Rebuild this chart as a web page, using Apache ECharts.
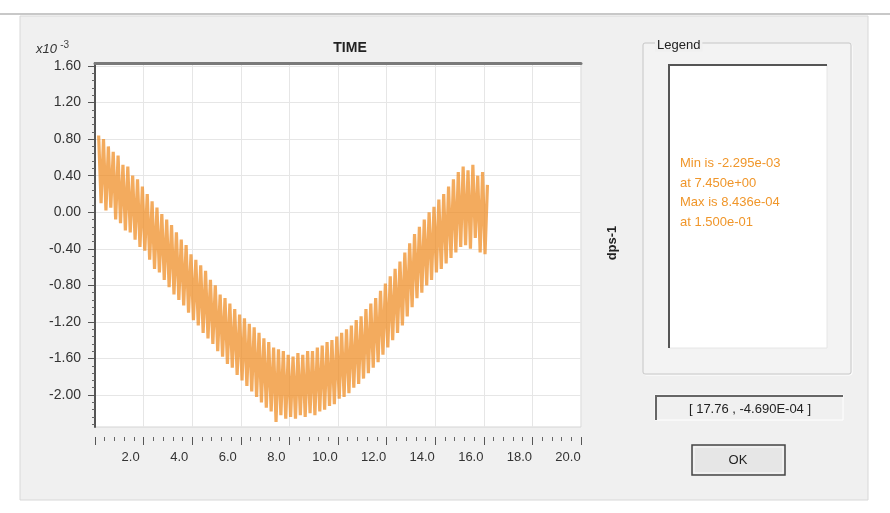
<!DOCTYPE html>
<html>
<head>
<meta charset="utf-8">
<script src="https://cdn.jsdelivr.net/npm/echarts@6/dist/echarts.min.js"></script>
<style>
  html, body { margin: 0; padding: 0; background: #fff; }
  #main { width: 890px; height: 513px; }
</style>
</head>
<body>
<div id="main"></div>
<script>
// signal dps-1 against TIME, values in units of 1e-3
const timeStart = 0.15;
const timeStep = 0.1;
const dpsValues = [
  0.84, 0.10, 0.80, 0.02, 0.72, 0.05, 0.66, -0.08, 0.62, -0.12,
  0.52, -0.20, 0.50, -0.22, 0.40, -0.30, 0.36, -0.38, 0.28, -0.42,
  0.20, -0.52, 0.12, -0.62, 0.05, -0.66, -0.02, -0.74, -0.08, -0.82,
  -0.14, -0.90, -0.22, -0.96, -0.30, -1.02, -0.36, -1.10, -0.46, -1.18,
  -0.52, -1.24, -0.58, -1.32, -0.64, -1.38, -0.74, -1.44, -0.80, -1.52,
  -0.90, -1.58, -0.94, -1.66, -1.00, -1.70, -1.06, -1.78, -1.12, -1.84,
  -1.16, -1.90, -1.22, -1.96, -1.26, -2.02, -1.32, -2.08, -1.38, -2.14,
  -1.42, -2.18, -1.48, -2.295, -1.50, -2.22, -1.52, -2.26, -1.56, -2.24,
  -1.58, -2.26, -1.54, -2.22, -1.56, -2.24, -1.52, -2.20, -1.52, -2.22,
  -1.48, -2.18, -1.46, -2.16, -1.42, -2.12, -1.40, -2.10, -1.36, -2.04,
  -1.32, -2.02, -1.28, -1.98, -1.24, -1.92, -1.18, -1.88, -1.14, -1.82,
  -1.06, -1.76, -1.00, -1.70, -0.94, -1.64, -0.86, -1.56, -0.78, -1.48,
  -0.70, -1.40, -0.62, -1.32, -0.54, -1.24, -0.44, -1.14, -0.34, -1.04,
  -0.24, -0.94, -0.16, -0.88, -0.08, -0.80, 0.00, -0.74, 0.06, -0.66,
  0.14, -0.62, 0.20, -0.56, 0.28, -0.50, 0.36, -0.44, 0.44, -0.38,
  0.50, -0.36, 0.46, -0.40, 0.52, -0.28, 0.40, -0.44, 0.44, -0.46,
  0.30
];
const yTickLabels = [-2.0, -1.6, -1.2, -0.8, -0.4, 0.0, 0.4, 0.8, 1.2, 1.6];
const legendLines = ['Min is -2.295e-03', 'at 7.450e+00', 'Max is 8.436e-04', 'at 1.500e-01'];
const cursorText = '[ 17.76 , -4.690E-04 ]';

// 把采样点拼成 [x, y]
let seriesData = [];
for (let i = 0; i < dpsValues.length; i++) {
  seriesData.push([+(timeStart + i * timeStep).toFixed(2), dpsValues[i]]);
}

// y 轴小刻度，每 0.08 一个
let yMinorTicks = [];
for (let k = -29; k <= 20; k++) {
  if (k % 5 !== 0) yMinorTicks.push(+(k * 0.08).toFixed(2));
}

const yMin = -2.35, yMax = 1.633;
const font = 'Arial, "Liberation Sans", sans-serif';

let chart = echarts.init(document.getElementById('main'));
let option = {
  animation: false,
  backgroundColor: '#fff',
  title: {
    text: 'TIME',
    left: 345,
    top: 36,
    textAlign: 'center',
    textStyle: { fontFamily: font, fontSize: 14, fontWeight: 'bold', color: '#222' }
  },
  grid: {
    left: 95,
    top: 63,
    width: 486,
    height: 364,
    show: true,
    backgroundColor: '#fff',
    borderColor: '#d4d4d4',
    borderWidth: 1
  },
  xAxis: [
    {
      type: 'value',
      min: 0,
      max: 20,
      interval: 2,
      offset: 10,
      axisLine: { show: false, onZero: false },
      axisTick: { show: true, inside: false, length: 8, lineStyle: { color: '#555' } },
      minorTick: { show: true, splitNumber: 5, length: 4, lineStyle: { color: '#666' } },
      axisLabel: {
        margin: 14,
        padding: [0, 26, 0, 0],
        fontFamily: font,
        fontSize: 13,
        color: '#333',
        showMinLabel: false,
        formatter: function (v) { return v === 0 ? '' : v.toFixed(1); }
      },
      splitLine: { show: true, lineStyle: { color: '#e6e6e6', width: 1 } },
      minorSplitLine: { show: false }
    },
    {
      // 顶部深色边框
      type: 'value',
      position: 'top',
      min: 0,
      max: 20,
      axisLine: { show: true, onZero: false, lineStyle: { color: '#7a7a7a', width: 3 } },
      axisTick: { show: false },
      axisLabel: { show: false },
      splitLine: { show: false }
    }
  ],
  yAxis: [
    {
      type: 'value',
      min: yMin,
      max: yMax,
      axisLine: { show: true, onZero: false, lineStyle: { color: '#555', width: 2 } },
      axisTick: { show: true, inside: false, length: 7, customValues: yTickLabels, lineStyle: { color: '#555' } },
      axisLabel: {
        customValues: yTickLabels,
        margin: 14,
        fontFamily: font,
        fontSize: 14,
        color: '#333',
        formatter: function (v) { return v.toFixed(2); }
      },
      splitLine: { show: true, lineStyle: { color: '#e6e6e6', width: 1 } }
    },
    {
      // 小刻度
      type: 'value',
      position: 'left',
      min: yMin,
      max: yMax,
      axisLine: { show: false, onZero: false },
      axisTick: { show: true, inside: false, length: 3, customValues: yMinorTicks, lineStyle: { color: '#666' } },
      axisLabel: { show: false },
      splitLine: { show: false }
    }
  ],
  graphic: [
    // 对话框背景
    { type: 'rect', z: -10, shape: { x: 20, y: 16, width: 848, height: 484 },
      style: { fill: '#f0f0f0', stroke: '#d8d8d8', lineWidth: 1 } },
    { type: 'line', z: -9, shape: { x1: 0, y1: 14, x2: 890, y2: 14 },
      style: { stroke: '#c8c8c8', lineWidth: 2 } },
    // x10 -3
    { type: 'text', left: 36, top: 40, style: {
        text: '{a|x10} {b|-3}',
        rich: {
          a: { fontFamily: font, fontSize: 13, fontStyle: 'italic', fill: '#333' },
          b: { fontFamily: font, fontSize: 10, fill: '#444', verticalAlign: 'top', padding: [0, 0, 8, 0] }
        }
    } },
    // dps-1
    { type: 'text', x: 612, y: 243, rotation: Math.PI / 2, style: {
        text: 'dps-1', fontFamily: font, fontSize: 13, fontWeight: 'bold', fill: '#222',
        align: 'center', verticalAlign: 'middle'
    } },
    // Legend 分组框
    { type: 'rect', shape: { x: 644, y: 44, width: 208, height: 331, r: 2 },
      style: { fill: 'none', stroke: '#fff', lineWidth: 1 } },
    { type: 'rect', shape: { x: 643, y: 43, width: 208, height: 331, r: 2 },
      style: { fill: '#f3f3f3', stroke: '#c6c6c6', lineWidth: 1 } },
    { type: 'text', x: 655, y: 45, style: {
        text: 'Legend', fontFamily: font, fontSize: 13, fill: '#222',
        backgroundColor: '#f0f0f0', padding: [0, 2], verticalAlign: 'middle'
    } },
    // 列表框
    { type: 'rect', shape: { x: 669, y: 65, width: 158, height: 283 },
      style: { fill: '#fff', stroke: '#e6e6e6', lineWidth: 1 } },
    { type: 'polyline', shape: { points: [[669, 348], [669, 65], [827, 65]] },
      style: { stroke: '#555', lineWidth: 2, fill: null } },
    { type: 'text', x: 680, y: 154, style: {
        text: legendLines.join('\n'), fontFamily: font, fontSize: 13, fill: '#f0962a',
        lineHeight: 19.5, verticalAlign: 'top'
    } },
    // 坐标显示框
    { type: 'rect', shape: { x: 655, y: 395, width: 188, height: 25 },
      style: { fill: '#f0f0f0', stroke: '#fff', lineWidth: 1 } },
    { type: 'polyline', shape: { points: [[656, 420], [656, 396], [843, 396]] },
      style: { stroke: '#666', lineWidth: 2, fill: null } },
    { type: 'text', x: 750, y: 409, style: {
        text: cursorText, fontFamily: font, fontSize: 13, fill: '#222',
        align: 'center', verticalAlign: 'middle'
    } },
    // OK 按钮
    { type: 'rect', shape: { x: 692, y: 445, width: 93, height: 30 },
      style: { fill: '#e6e6e6', stroke: '#444', lineWidth: 1.5 } },
    { type: 'rect', shape: { x: 694, y: 447, width: 89, height: 26 },
      style: { fill: 'none', stroke: '#fafafa', lineWidth: 1 } },
    { type: 'text', x: 738, y: 460, style: {
        text: 'OK', fontFamily: font, fontSize: 13, fill: '#222',
        align: 'center', verticalAlign: 'middle'
    } }
  ],
  series: [
    {
      type: 'line',
      showSymbol: false,
      sampling: null,
      xAxisIndex: 0,
      yAxisIndex: 0,
      data: seriesData,
      lineStyle: { color: 'rgba(238,135,25,0.7)', width: 3.2 }
    }
  ]
};
chart.setOption(option);
</script>
</body>
</html>
